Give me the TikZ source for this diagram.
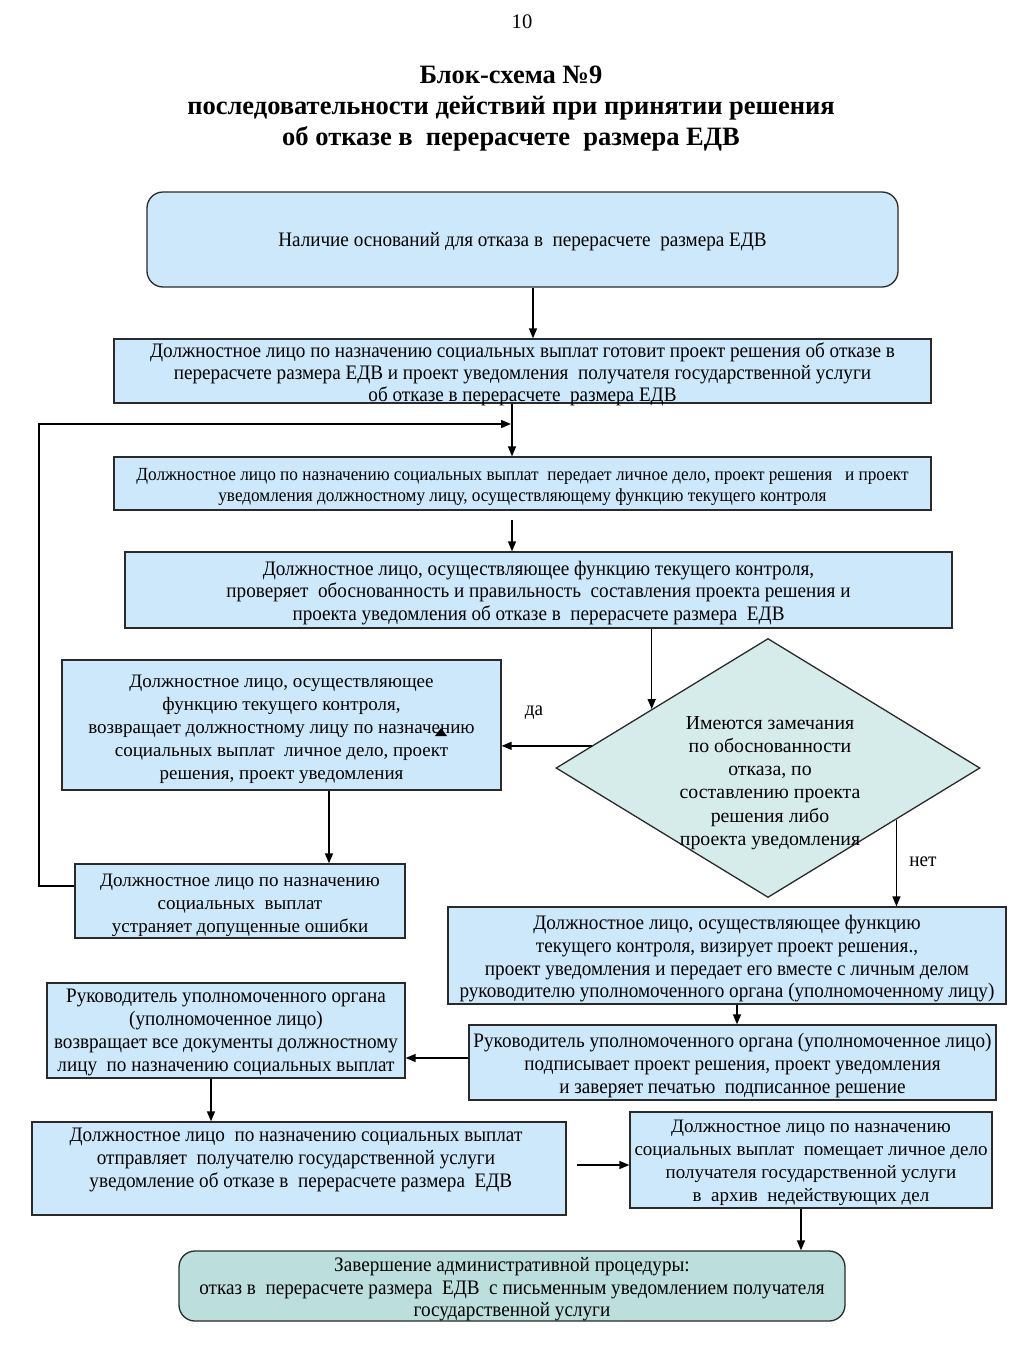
\documentclass[tikz,border=0pt]{standalone}
\usepackage{fontspec}
\setmainfont{Liberation Serif}
\newfontfamily\condf[FakeStretch=0.93]{Liberation Serif}
\usetikzlibrary{shapes.geometric,arrows.meta,calc}
\definecolor{boxblue}{HTML}{CCE8FA}
\definecolor{diafill}{HTML}{D6ECEA}
\definecolor{endfill}{HTML}{BCDFDE}
\definecolor{edgec}{HTML}{2A2A2A}
\begin{document}
\begin{tikzpicture}[x=1pt,y=-1pt,
  box/.style={draw=edgec, line width=1.3pt, fill=boxblue, inner sep=0pt},
  rbox/.style={box, rounded corners=16pt},
  txt/.style={inner sep=0pt, align=center, font=\fontsize{20.6}{23}\selectfont},
  nt/.style={inner sep=0pt, align=center, font=\fontsize{19}{23}\selectfont},
  ct/.style={inner sep=0pt, align=center, font=\condf\fontsize{20.6}{22}\selectfont},
  st/.style={inner sep=0pt, align=center, font=\condf\fontsize{18.5}{21}\selectfont},
  arr/.style={line width=1.4pt, draw=black, -{Triangle[length=10pt,width=8pt]}},
  ttl/.style={inner sep=0pt, align=center, font=\bfseries\fontsize{26.5}{31}\selectfont}
]
\useasboundingbox (0,0) rectangle (1024,1365);

% header
\node[txt] (pg) at (522,22) {10};
\node[ttl] (title) at (511,109) {Блок-схема №9\\последовательности действий при принятии решения\\об отказе в\ \ перерасчете\ \ размера ЕДВ};

% boxes
\node[rbox, minimum width=751, minimum height=95] (b1) at (522.5,239.5) {};
\node[ct] (t1) at ([yshift=-2.5pt]b1.center) {Наличие оснований для отказа в\ \ перерасчете\ \ размера ЕДВ};

\node[box, minimum width=817, minimum height=64] (b2) at (522.5,371) {};
\node[ct] (t2) at ([yshift=-3pt]b2.center)
  {Должностное лицо по назначению социальных выплат готовит проект решения об отказе в\\
   перерасчете размера ЕДВ и проект уведомления\ \ получателя государственной услуги\\
   об отказе в перерасчете\ \ размера ЕДВ};

\node[box, minimum width=817, minimum height=53] (b3) at (522.5,483.5) {};
\node[st] (t3) at ([yshift=-3pt]b3.center)
  {Должностное лицо по назначению социальных выплат\ \ передает личное дело, проект решения\ \ \ и проект\\
   уведомления должностному лицу, осуществляющему функцию текущего контроля};

\node[box, minimum width=827, minimum height=76] (b4) at (538.5,590) {};
\node[ct, font=\condf\fontsize{20.6}{22.5}\selectfont] (t4) at ([yshift=-3pt]b4.center)
  {Должностное лицо, осуществляющее функцию текущего контроля,\\
   проверяет\ \ обоснованность и правильность\ \ составления проекта решения и\\
   проекта уведомления об отказе в\ \ перерасчете размера\ \ ЕДВ};

\node[draw=edgec, line width=1.3pt, fill=diafill, diamond, inner sep=0pt, aspect=1.637,
  minimum width=424, minimum height=259] (dia) at (768,768) {};
\node[txt, font=\fontsize{19.8}{23.2}\selectfont] (diat) at (770,783)
  {Имеются замечания\\по обоснованности\\отказа, по\\составлению проекта\\решения либо\\проекта уведомления};

\node[box, minimum width=439, minimum height=130] (b5) at (281.5,725) {};
\node[nt] (t5) at ([yshift=-4pt]b5.center)
  {Должностное лицо, осуществляющее\\функцию текущего контроля,\\возвращает должностному лицу по назначению\\социальных выплат\ \ личное дело, проект\\решения, проект уведомления};
\fill (435,736) -- (447,736) -- (441,728) -- cycle;

\node[box, minimum width=330, minimum height=74] (b6) at (240,901) {};
\node[nt] (t6) at ([yshift=-4pt]b6.center)
  {Должностное лицо по назначению\\социальных\ \ выплат\\устраняет допущенные ошибки};

\node[ct] (lda) at (534,713) {да};
\node[ct] (lnet) at (923,862) {нет};

\node[box, minimum width=558, minimum height=97] (b7) at (727,955.5) {};
\node[ct, font=\condf\fontsize{20.6}{22.7}\selectfont] (t7) at ([yshift=-3.5pt]b7.center)
  {Должностное лицо, осуществляющее функцию\\текущего контроля, визирует проект решения.,\\проект уведомления и передает его вместе с личным делом\\руководителю уполномоченного органа (уполномоченному лицу)};

\node[box, minimum width=527, minimum height=75] (b8) at (732.5,1062.5) {};
\node[ct, font=\condf\fontsize{20.6}{23}\selectfont] (t8) at ([yshift=-3pt]b8.center)
  {Руководитель уполномоченного органа (уполномоченное лицо)\\подписывает проект решения, проект уведомления\\и заверяет печатью\ \ подписанное решение};

\node[box, minimum width=358, minimum height=95] (b9) at (226,1030.5) {};
\node[ct, font=\condf\fontsize{20.6}{23}\selectfont] (t9) at ([yshift=-2pt]b9.center)
  {Руководитель уполномоченного органа\\(уполномоченное лицо)\\возвращает все документы должностному\\лицу\ \ по назначению социальных выплат};

\node[box, minimum width=534, minimum height=93] (b10) at (299,1168.5) {};
\node[ct, font=\condf\fontsize{20.6}{23}\selectfont] (t10) at (296,1160)
  {Должностное лицо\ \ по назначению социальных выплат\\отправляет\ \ получателю государственной услуги\\\ \ уведомление об отказе в\ \ перерасчете размера\ \ ЕДВ};

\node[box, minimum width=362, minimum height=96] (b11) at (811,1160) {};
\node[nt] (t11) at ([yshift=-3pt]b11.center)
  {Должностное лицо по назначению\\социальных выплат\ \ помещает личное дело\\получателя государственной услуги\\в\ \ архив\ \ недействующих дел};

\node[rbox, fill=endfill, minimum width=666, minimum height=70] (b12) at (512,1286) {};
\node[ct, font=\condf\fontsize{20.6}{22.5}\selectfont] (t12) at ([yshift=-3.5pt]b12.center)
  {Завершение административной процедуры:\\отказ в\ \ перерасчете размера\ \ ЕДВ\ \ с письменным уведомлением получателя\\государственной услуги};

% connectors
\draw[arr] (b1.south -| 533,0) -- (b2.north -| 533,0);
\draw[arr] (b2.south -| 512,0) -- (b3.north -| 512,0);
\coordinate (lp) at (39,424);
\coordinate (jn) at (511,424);
\draw[arr] ([yshift=15pt]b6.west) -| (lp) -- (jn);
\coordinate (c34) at (512,520);
\draw[arr] (c34) -- (c34 |- b4.north);
\coordinate (dn) at ($(dia.west)!0.453!(dia.north)$);
\draw[arr] (b4.south -| dn) -- (dn);
\coordinate (dw) at ($(dia.west)!0.17!(dia.north)$);
\draw[arr] (dw) -- (dw -| b5.east);
\draw[arr] (b5.south -| 329,0) -- (b6.north -| 329,0);
\coordinate (ds) at ($(dia.east)!0.396!(dia.south)$);
\draw[arr] (ds) -- (ds |- b7.north);
\draw[arr] (b7.south -| 737,0) -- (b8.north -| 737,0);
\draw[arr] (b8.west |- 0,1058) -- (b9.east |- 0,1058);
\draw[arr] (b9.south -| 211,0) -- (b10.north -| 211,0);
\coordinate (c1011) at (577,1165);
\draw[arr] (c1011) -- (c1011 -| b11.west);
\draw[arr] (b11.south -| 801,0) -- (b12.north -| 801,0);
\end{tikzpicture}
\end{document}
